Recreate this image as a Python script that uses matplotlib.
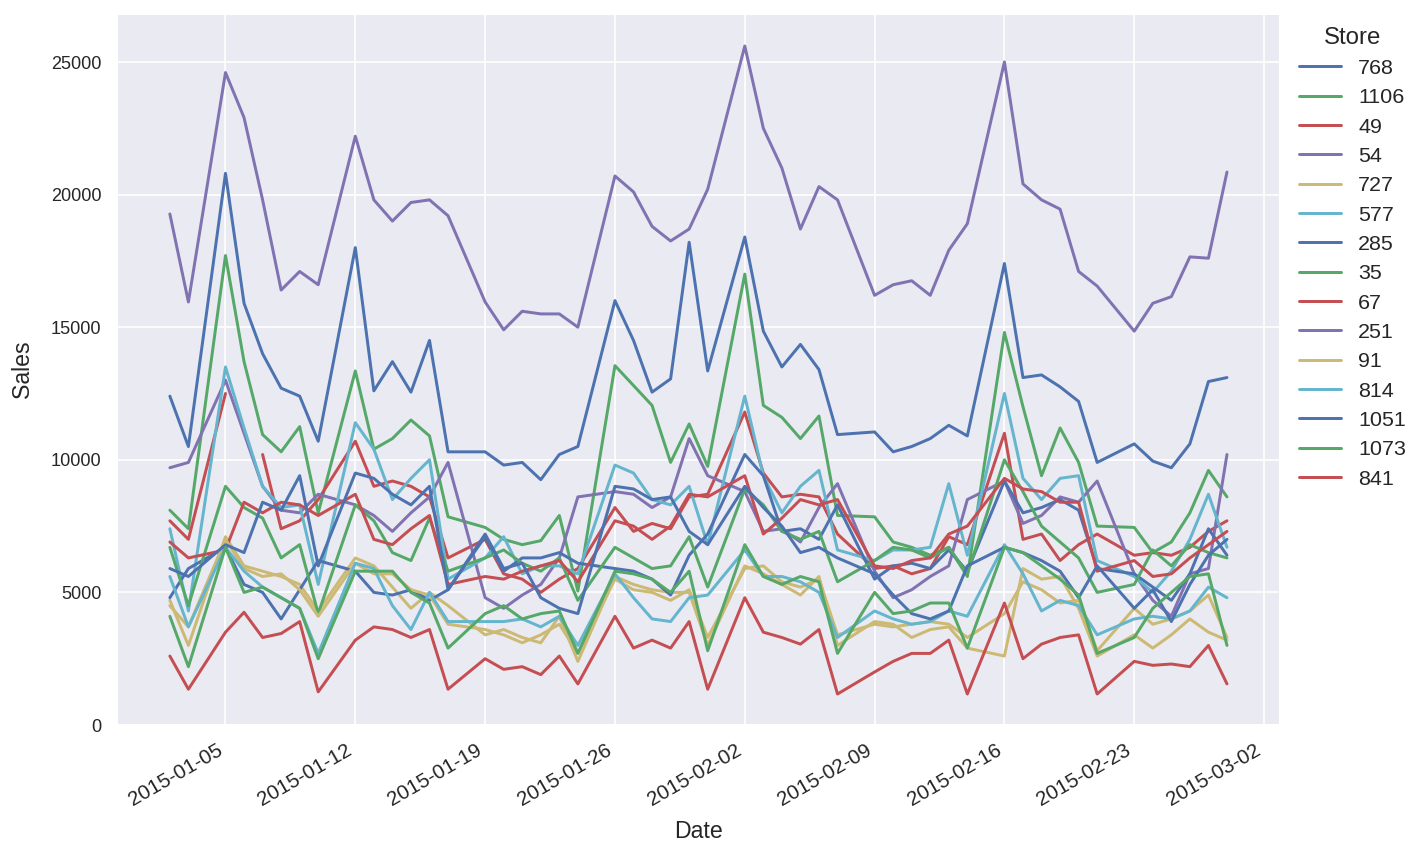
import numpy as np
import pandas as pd
import seaborn as sns
import matplotlib
matplotlib.use("Agg")
from matplotlib import pyplot as plt
import matplotlib.dates as mdates

nan = np.nan

# trading days (Sundays closed) from 2015-01-02 to 2015-02-28
dates = pd.date_range("2015-01-02", "2015-02-28")
dates = dates[dates.dayofweek != 6]

stores = [768, 1106, 49, 54, 727, 577, 285, 35, 67, 251, 91, 814, 1051, 1073, 841]

s768 = [12400, 10500,
        20800, 15900, 14000, 12700, 12400, 10700,
        18000, 12600, 13700, 12550, 14500, 10300,
        10300, 9800, 9900, 9250, 10200, 10500,
        16000, 14500, 12550, 13050, 18200, 13350,
        18400, 14850, 13500, 14350, 13400, 10950,
        11050, 10300, 10500, 10800, 11300, 10900,
        17400, 13100, 13200, 12750, 12200, 9900,
        10600, 9950, 9700, 10600, 12950, 13100]
s1106 = [8100, 7400,
         17700, 13700, 10950, 10300, 11250, 8000,
         13350, 10400, 10800, 11500, 10900, 7850,
         7450, 7000, 6800, 6950, 7900, 5050,
         13550, 12800, 12050, 9900, 11350, 9750,
         17000, 12050, 11600, 10800, 11650, 7900,
         7850, 6900, 6700, 6400, 6700, 5600,
         14800, 12000, 9400, 11200, 9900, 7500,
         7450, 6500, 6900, 8000, 9600, 8600]
s49 = [7700, 7000,
       12500, nan, 10200, 7400, 7700, 8500,
       10700, 9000, 9200, 9000, 8600, 6300,
       7000, 5700, 5500, 5000, 5500, 5900,
       8200, 7300, 7600, 7400, 8600, 8700,
       11800, 9500, 8600, 8700, 8600, 7200,
       5900, 6000, 5700, 5900, 7100, 6800,
       11000, 7000, 7200, 6200, 6800, 7200,
       6400, 6500, 6400, 6700, 7300, 7700]
s54 = [9700, 9900,
       13000, 11000, 9000, 8100, 8000, 8700,
       8300, 7900, 7300, 8000, 8600, 9900,
       4800, 4400, 4900, 5300, 6300, 8600,
       8800, 8700, 8200, 8600, 10800, 9400,
       8800, 7300, 7400, 6900, 8200, 9100,
       5800, 4800, 5100, 5600, 6000, 8500,
       9200, 7600, 7900, 8600, 8400, 9200,
       5700, 4700, 4100, 5700, 5900, 10200]
s727 = [4700, 3000,
        7100, 6000, 5800, 5600, 5300, 4300,
        6300, 6000, 5200, 4400, 5000, 4500,
        3400, 3600, 3300, 3100, 4100, 2400,
        5600, 5300, 5100, 5000, 5000, 3000,
        6000, 5700, 5300, 4900, 5600, 3000,
        3900, 3800, 3300, 3600, 3700, 2900,
        2600, 5900, 5500, 5600, 4400, 2600,
        3400, 2900, 3400, 4000, 3500, 3200]
s577 = [7400, 4300,
        13500, 11200, 9000, 8200, 8300, 5300,
        11400, 10400, 8500, 9300, 10000, 5500,
        6300, 7100, 5700, 6000, 6000, 5700,
        9800, 9500, 8500, 8300, 9000, 6800,
        12400, 9400, 8000, 9000, 9600, 6600,
        6200, 6600, 6600, 6700, 9100, 6400,
        12500, 9300, 8500, 9300, 9400, 6200,
        5600, 5000, 5800, 7000, 8700, 6700]
s285 = [4800, 5900,
        6700, 5300, 5000, 4000, 5100, 6200,
        5800, 5000, 4900, 5100, 4700, 5100,
        7100, 5800, 6300, 6300, 6500, 6100,
        5900, 5800, 5500, 4900, 6400, 7200,
        10200, 9400, 7300, 7400, 7000, 8300,
        5500, 6000, 6100, 5900, 6600, 5800,
        9200, 8000, 8200, 8500, 8100, 5900,
        5700, 5200, 4700, 5700, 7400, 6400]
s35 = [6700, 4500,
       9000, 8200, 7800, 6300, 6800, 4200,
       8300, 7700, 6500, 6200, 7800, 5800,
       6300, 6600, 6100, 5800, 6300, 4700,
       6700, 6300, 5900, 6000, 7100, 5200,
       8900, 8300, 7300, 7000, 7300, 5400,
       6200, 6700, 6600, 6300, 6700, 5700,
       10000, 8800, 7500, 6900, 6300, 5000,
       5300, 6600, 6000, 6800, 6500, 6300]
s67 = [6900, 6300,
       6600, 8400, 8000, 8400, 8300, 7900,
       8700, 7000, 6800, 7400, 7900, 5300,
       5600, 5500, 5800, 6000, 6200, 5400,
       7700, 7500, 7000, 7500, 8700, 8600,
       9400, 7200, 7800, 8500, 8300, 8500,
       6000, 5900, 6200, 6300, 7200, 7500,
       9300, 8900, 8800, 8400, 8400, 5800,
       6200, 5600, 5700, 6300, 6800, 7300]
s251 = [19270, 15950,
        24600, 22900, 19800, 16400, 17100, 16600,
        22200, 19800, 19000, 19700, 19800, 19200,
        15950, 14900, 15600, 15500, 15500, 15000,
        20700, 20100, 18800, 18250, 18700, 20200,
        25600, 22500, 21000, 18700, 20300, 19800,
        16200, 16600, 16750, 16200, 17900, 18900,
        25000, 20400, 19800, 19450, 17100, 16550,
        14850, 15900, 16150, 17650, 17600, 20850]
s91 = [4500, 3700,
       7000, 5900, 5600, 5700, 5100, 4100,
       6100, 5700, 5700, 5100, 4900, 3800,
       3600, 3400, 3100, 3400, 3800, 2700,
       5500, 5100, 5000, 4700, 5100, 3300,
       5900, 6000, 5400, 5200, 5500, 3400,
       3800, 3700, 3800, 3900, 3800, 3300,
       4200, 5400, 5100, 4600, 4700, 2800,
       4400, 3800, 4000, 4300, 4900, 3300]
s814 = [5600, 3700,
        6700, 5800, 5200, 4800, 4400, 2700,
        6100, 5900, 4500, 3600, 5000, 3900,
        3900, 3900, 4000, 3700, 4100, 3000,
        5700, 4800, 4000, 3900, 4800, 4900,
        6600, 5600, 5600, 5400, 5000, 3300,
        4300, 4000, 3800, 3900, 4300, 4100,
        6800, 5700, 4300, 4700, 4500, 3400,
        4000, 4100, 4000, 4300, 5200, 4800]
s1051 = [5900, 5600,
         6800, 6500, 8400, 8100, 9400, 6000,
         9500, 9300, 8700, 8300, 9000, 5100,
         7200, 5900, 6100, 4800, 4400, 4200,
         9000, 8900, 8500, 8600, 7300, 6800,
         9000, 8200, 7500, 6500, 6700, 6300,
         5700, 4900, 4200, 4000, 4300, 6000,
         6700, 6500, 6200, 5800, 4800, 6000,
         4400, 5100, 3900, 5300, 6400, 7000]
s1073 = [4100, 2200,
         6700, 5000, 5200, 4800, 4400, 2500,
         5800, 5800, 5800, 5000, 4600, 2900,
         4200, 4500, 4000, 4200, 4300, 2700,
         5800, 5700, 5500, 5000, 5800, 2800,
         6800, 5600, 5300, 5600, 5400, 2700,
         5000, 4200, 4300, 4600, 4600, 2900,
         6700, 6500, 6000, 5500, 4900, 2700,
         3300, 4400, 5000, 5600, 5700, 3000]
s841 = [2600, 1350,
        3500, 4250, 3300, 3450, 3900, 1250,
        3200, 3700, 3600, 3300, 3600, 1350,
        2500, 2100, 2200, 1900, 2600, 1550,
        4100, 2900, 3200, 2900, 3900, 1350,
        4800, 3500, 3300, 3050, 3600, 1170,
        2000, 2400, 2700, 2700, 3200, 1170,
        4600, 2500, 3050, 3300, 3400, 1170,
        2400, 2250, 2300, 2200, 3000, 1550]

sales = [s768, s1106, s49, s54, s727, s577, s285, s35, s67, s251, s91, s814, s1051, s1073, s841]

sns.set_theme(style="darkgrid")
plt.rcParams["font.family"] = ["Liberation Sans", "DejaVu Sans"]
colors = ["#4C72B0", "#55A868", "#C44E52", "#8172B2", "#CCB974", "#64B5CD"]  # old seaborn deep

fig, ax = plt.subplots(figsize=(12, 7.2), dpi=118.9)
for i, (store, vals) in enumerate(zip(stores, sales)):
    ax.plot(dates, vals, color=colors[i % 6], label=str(store), linewidth=1.8)

ax.set_ylim(bottom=0)
ax.xaxis.set_major_locator(mdates.WeekdayLocator(byweekday=mdates.MO))
ax.xaxis.set_major_formatter(mdates.DateFormatter("%Y-%m-%d"))
ax.set_xlabel("Date", fontsize=14, labelpad=6)
ax.set_ylabel("Sales", fontsize=14, labelpad=10)
ax.tick_params(axis="x", labelsize=12.5)
ax.tick_params(axis="y", labelsize=11)
fig.autofmt_xdate()
ax.legend(title="Store", loc="upper left", bbox_to_anchor=(1.0, 1.009), frameon=False,
          fontsize=13, title_fontsize=14.5, labelspacing=0.48, handlelength=1.95)
fig.subplots_adjust(left=0.082, right=0.897, top=0.984, bottom=0.153)
fig.savefig("out.png")
